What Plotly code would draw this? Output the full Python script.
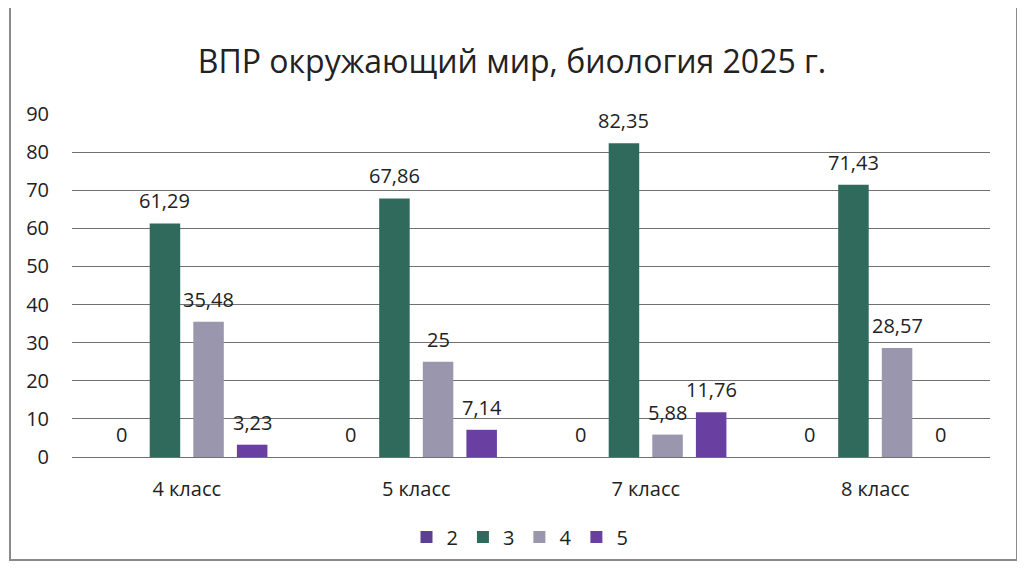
import plotly.graph_objects as go

categories = ["4 класс", "5 класс", "7 класс", "8 класс"]
series_names = ["2", "3", "4", "5"]
s2 = [0, 0, 0, 0]
s3 = [61.29, 67.86, 82.35, 71.43]
s4 = [35.48, 25, 5.88, 28.57]
s5 = [3.23, 7.14, 11.76, 0]
values = [s2, s3, s4, s5]
colors = ["#5b3f92", "#2f6a5c", "#9996ae", "#6a3fa2"]
title = "ВПР окружающий мир, биология 2025 г."


def fmt(v):
    return ("%g" % v).replace(".", ",")

FONT = "'Open Sans', Lato, sans-serif"

# figure coordinates (page is offset by 8px body margin)
FW, FH = 1017, 567
L, R, T, B = 64, 982, 106, 449
W = R - L
H = B - T
BARGAP = 0.24
BARGROUPGAP = 0.3

def px_x(p):
    return (p - L) / W

def px_y(p):
    return (B - p) / H

fig = go.Figure()
for name, vals, col in zip(series_names, values, colors):
    fig.add_trace(go.Bar(
        x=categories, y=vals, name=name,
        marker=dict(color=col, line=dict(width=0)),
        hoverinfo="x+y+name",
    ))

# data labels placed above each bar, offset by group slot
ncat = len(categories)
nser = len(series_names)
cat_w = W / ncat
slot = cat_w * (1 - BARGAP) / nser
annotations = []
for i, vals in enumerate(values):
    for c, v in zip(categories, vals):
        annotations.append(dict(
            x=c, y=v, xref="x", yref="y", text=fmt(v), showarrow=False,
            xanchor="center", yanchor="bottom",
            xshift=(i - (nser - 1) / 2) * slot, yshift=7,
            font=dict(size=20, family=FONT, color="#222"),
        ))

fig.update_layout(
    width=FW, height=FH,
    margin=dict(l=L, r=FW - R, t=T, b=FH - B),
    paper_bgcolor="white", plot_bgcolor="white",
    barmode="group", bargap=BARGAP, bargroupgap=BARGROUPGAP,
    separators=", ",
    font=dict(family=FONT, color="#222", size=18),
    title=dict(text=title, x=504 / FW, xanchor="center", y=1 - 54 / FH, yanchor="middle",
               font=dict(size=32, family=FONT, color="#222")),
    legend=dict(orientation="h", x=px_x(512), xanchor="center", y=px_y(529), yanchor="middle",
                font=dict(size=20, family=FONT), itemwidth=30, traceorder="normal"),
    xaxis=dict(showgrid=False, showline=False, ticks="", tickfont=dict(size=20),
               ticklabelstandoff=18),
    yaxis=dict(range=[0, 90], dtick=10, showgrid=True, gridcolor="#707070", gridwidth=1,
               zeroline=True, zerolinecolor="#707070", zerolinewidth=1,
               ticks="", ticklabelstandoff=22, tickfont=dict(size=20)),
    annotations=annotations,
    shapes=[dict(type="rect", xref="paper", yref="paper",
                 x0=px_x(2), x1=px_x(1009), y0=px_y(552), y1=px_y(-3),
                 line=dict(color="#8a8a8a", width=2), layer="below")],
)

fig.write_html("out.html")
